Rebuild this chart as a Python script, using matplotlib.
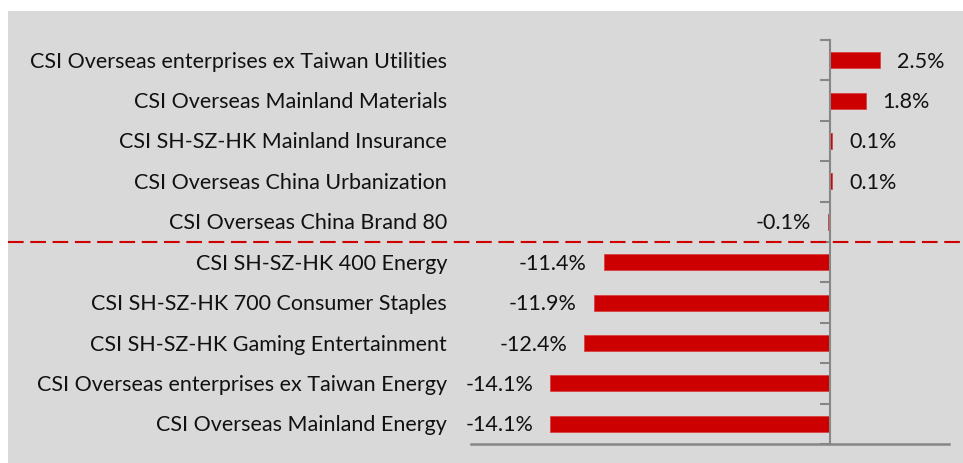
import matplotlib
matplotlib.use("Agg")
import matplotlib.pyplot as plt
from matplotlib.patches import Rectangle
from matplotlib.lines import Line2D
import matplotlib.transforms as mtransforms

categories = [
    "CSI Overseas enterprises ex Taiwan Utilities",
    "CSI Overseas Mainland Materials",
    "CSI SH-SZ-HK Mainland Insurance",
    "CSI Overseas China Urbanization",
    "CSI Overseas China Brand 80",
    "CSI SH-SZ-HK 400 Energy",
    "CSI SH-SZ-HK 700 Consumer Staples",
    "CSI SH-SZ-HK Gaming Entertainment",
    "CSI Overseas enterprises ex Taiwan Energy",
    "CSI Overseas Mainland Energy",
]
values = [2.5, 1.8, 0.1, 0.1, -0.1, -11.4, -11.9, -12.4, -14.1, -14.1]
value_labels = ["2.5%", "1.8%", "0.1%", "0.1%", "-0.1%", "-11.4%", "-11.9%", "-12.4%", "-14.1%", "-14.1%"]
split_after = 5  # dashed separator between top 5 and bottom 5

plt.rcParams['font.family'] = ['Lato', 'DejaVu Sans']
W, H = 963, 463
fig = plt.figure(figsize=(W / 100, H / 100), dpi=100, facecolor="white")
fig.patches.append(Rectangle((8 / W, 0), 1 - 8 / W, (H - 11) / H, transform=fig.transFigure,
                             facecolor="#d9d9d9", edgecolor="none", zorder=-10))

ax = fig.add_axes([471 / W, (H - 444) / H, (949 - 471) / W, (444 - 40) / H])
ax.set_facecolor("none")
n = len(categories)
ypos = list(range(n))
ax.barh(ypos, values, height=0.4, color="#cc0000", edgecolor="#d84040", linewidth=0.6, zorder=3)
ax.set_xlim(-18.1, 6.0)
ax.set_ylim(n - 0.5, -0.5)

for s in ["top", "right"]:
    ax.spines[s].set_visible(False)
ax.spines["left"].set_position(("data", 0))
ax.spines["left"].set_color("#868686")
ax.spines["left"].set_linewidth(1.5)
ax.spines["left"].set_zorder(4)
ax.spines["bottom"].set_color("#868686")
ax.spines["bottom"].set_linewidth(1.8)
ax.set_xticks([])
ax.set_yticks([i - 0.5 for i in range(n + 1)])
ax.set_yticklabels([])
ax.tick_params(axis="y", direction="out", length=7, width=1.5, color="#868686")

fs = 15.5
dy = -1.5 / 100
trans_lbl = mtransforms.blended_transform_factory(ax.transAxes, ax.transData)
for i, c in enumerate(categories):
    ax.text(0, i, c, transform=trans_lbl + mtransforms.ScaledTranslation(-24 / 100, dy, fig.dpi_scale_trans),
            ha="right", va="center", fontsize=fs, color="#111111")
for i, (v, lab) in enumerate(zip(values, value_labels)):
    off = 17 / 100 if v >= 0 else -17 / 100
    ax.text(v, i, lab, transform=ax.transData + mtransforms.ScaledTranslation(off, dy, fig.dpi_scale_trans),
            ha="left" if v >= 0 else "right", va="center", fontsize=fs, color="#111111")

trans_sep = mtransforms.blended_transform_factory(fig.transFigure, ax.transData)
fig.lines.append(Line2D([8 / W, 1], [split_after - 0.5, split_after - 0.5], transform=trans_sep,
                        color="#d00000", linewidth=1.5, dashes=(7.5, 3.2), zorder=5))

fig.savefig("out.png", dpi=100, facecolor="white")
